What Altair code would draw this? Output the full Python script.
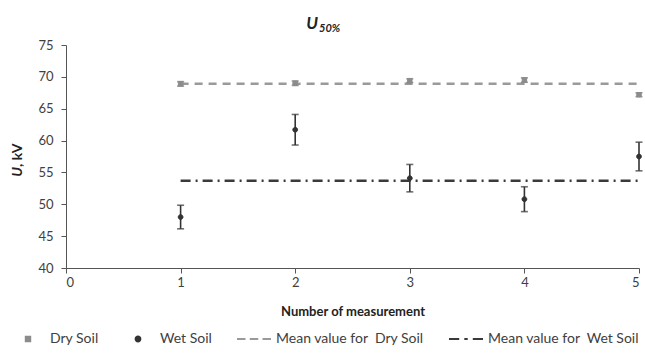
import altair as alt
import pandas as pd

# ---- data ----
measurement = [1, 2, 3, 4, 5]
dry_soil = [68.9, 69.0, 69.4, 69.5, 67.2]
dry_err = [0.35, 0.35, 0.3, 0.35, 0.3]
wet_soil = [48.0, 61.7, 54.1, 50.8, 57.5]
wet_err = [1.85, 2.4, 2.15, 1.95, 2.25]
mean_dry = 68.9
mean_wet = 53.7
mean_span = [1, 5]
series_names = ["Dry Soil", "Wet Soil",
                "Mean value for\u00a0 Dry Soil", "Mean value for\u00a0 Wet Soil"]
x_ticks = [0, 1, 2, 3, 4, 5]
y_ticks = [40, 45, 50, 55, 60, 65, 70, 75]

FONT = "Lato"
C_DRY = "#8c8c8c"
C_WET = "#333333"
C_DRY_LINE = "#9a9a9a"
C_WET_LINE = "#3a3a3a"
C_TEXT = "#404040"

rows = []
for m, v, e in zip(measurement, dry_soil, dry_err):
    rows.append(dict(m=m, v=v, lo=v - e, hi=v + e, series=series_names[0]))
for m, v, e in zip(measurement, wet_soil, wet_err):
    rows.append(dict(m=m, v=v, lo=v - e, hi=v + e, series=series_names[1]))
df = pd.DataFrame(rows)

mean_df = pd.DataFrame({
    "m": mean_span + mean_span,
    "v": [mean_dry, mean_dry, mean_wet, mean_wet],
    "series": [series_names[2]] * 2 + [series_names[3]] * 2,
})

x_scale = alt.Scale(domain=[0, 5], nice=False, zero=False)
y_scale = alt.Scale(domain=[40, 75], nice=False, zero=False)
x_axis = alt.Axis(values=x_ticks, title="Number of measurement", grid=False,
                  labelFontSize=13, titleFontSize=13, titleFontWeight="bold",
                  tickSize=5, labelPadding=3, titlePadding=16,
                  domainColor="#555555", tickColor="#555555",
                  labelColor=C_TEXT, titleColor="#222222", labelFont=FONT, titleFont=FONT)
y_axis = alt.Axis(values=y_ticks, title=None, grid=False, labelFontSize=13,
                  tickSize=5, labelPadding=8, domainColor="#555555",
                  tickColor="#555555", labelColor=C_TEXT, labelFont=FONT)

X = alt.X("m:Q", scale=x_scale, axis=x_axis)
Y = alt.Y("v:Q", scale=y_scale, axis=y_axis)

# legend symbols (unit box -1..1)
sym_dry = "M-0.13,-0.13H0.13V0.13H-0.13Z"
sym_wet = "M-0.14,0A0.14,0.14,0,1,0,0.14,0A0.14,0.14,0,1,0,-0.14,0Z"
sym_dash = "M-1,0H-0.5M-0.25,0H0.25M0.5,0H1"
sym_dashdot = "M-1,0H-0.4M-0.1,0H0.1M0.4,0H1"

legend = alt.Legend(title=None, orient="none", legendX=-56, legendY=276,
                    direction="horizontal", labelFontSize=14, labelFont=FONT,
                    labelColor=C_TEXT, symbolSize=1156, symbolStrokeWidth=2,
                    columnPadding=21, labelOffset=4, padding=0)
series_scale_dom = series_names
fill_enc = alt.Fill("series:N", scale=alt.Scale(domain=series_scale_dom,
                    range=[C_DRY, C_WET, C_DRY_LINE, C_WET_LINE]), legend=legend)
stroke_enc = alt.Stroke("series:N", scale=alt.Scale(domain=series_scale_dom,
                        range=[C_DRY, C_WET, C_DRY_LINE, C_WET_LINE]), legend=legend)
shape_enc = alt.Shape("series:N", scale=alt.Scale(domain=series_scale_dom,
                      range=[sym_dry, sym_wet, sym_dash, sym_dashdot]), legend=legend)

def err_layers(name, color):
    sub = df[df.series == name]
    base = alt.Chart(sub)
    stem = base.mark_rule(color=color, strokeWidth=1.6).encode(
        x=X, y=alt.Y("lo:Q", scale=y_scale, axis=y_axis), y2="hi:Q")
    cap_lo = base.mark_tick(color=color, orient="horizontal", size=7, thickness=1.6).encode(
        x=X, y=alt.Y("lo:Q", scale=y_scale, axis=y_axis))
    cap_hi = base.mark_tick(color=color, orient="horizontal", size=7, thickness=1.6).encode(
        x=X, y=alt.Y("hi:Q", scale=y_scale, axis=y_axis))
    return stem + cap_lo + cap_hi

line_dry = alt.Chart(mean_df[mean_df.series == series_names[2]]).mark_line(
    color=C_DRY_LINE, strokeWidth=2.5, strokeDash=[8, 6]).encode(x=X, y=Y)
line_wet = alt.Chart(mean_df[mean_df.series == series_names[3]]).mark_line(
    color=C_WET_LINE, strokeWidth=2.5, strokeDash=[10, 5, 2, 5]).encode(x=X, y=Y)

points = alt.Chart(df).mark_point(filled=True, size=1156, strokeWidth=1, opacity=1).encode(
    x=X, y=Y, fill=fill_enc, stroke=stroke_enc, shape=shape_enc)

title_u = alt.Chart(pd.DataFrame({"t": ["U"]})).mark_text(
    font=FONT, fontSize=17, fontWeight="bold", fontStyle="italic", align="right",
    baseline="alphabetic", color="#222222").encode(
    text="t:N", x=alt.value(252), y=alt.value(-16))
title_sub = alt.Chart(pd.DataFrame({"t": ["50%"]})).mark_text(
    font=FONT, fontSize=11, fontWeight="bold", fontStyle="italic", align="left",
    baseline="alphabetic", color="#222222").encode(
    text="t:N", x=alt.value(253), y=alt.value(-13))
ytitle_u = alt.Chart(pd.DataFrame({"t": ["U"]})).mark_text(
    font=FONT, fontSize=14, fontWeight="bold", fontStyle="italic", align="right",
    baseline="middle", angle=270, color="#222222").encode(
    text="t:N", x=alt.value(-48), y=alt.value(122))
ytitle_rest = alt.Chart(pd.DataFrame({"t": [", kV"]})).mark_text(
    font=FONT, fontSize=14, fontWeight="bold", align="left",
    baseline="middle", angle=270, color="#222222").encode(
    text="t:N", x=alt.value(-48), y=alt.value(122))

chart = alt.layer(
    line_dry, line_wet,
    err_layers(series_names[0], "#6f6f6f"),
    err_layers(series_names[1], C_WET),
    points, title_u, title_sub, ytitle_u, ytitle_rest,
).properties(
    width=573, height=223,
    autosize=alt.AutoSizeParams(type="none"),
    padding={"left": 66, "top": 45, "right": 6, "bottom": 85},
    background="white",
).configure_view(stroke=None).configure_axis(labelFont=FONT, titleFont=FONT)

chart.save("out.html", embed_options={"renderer": "svg", "actions": False})
